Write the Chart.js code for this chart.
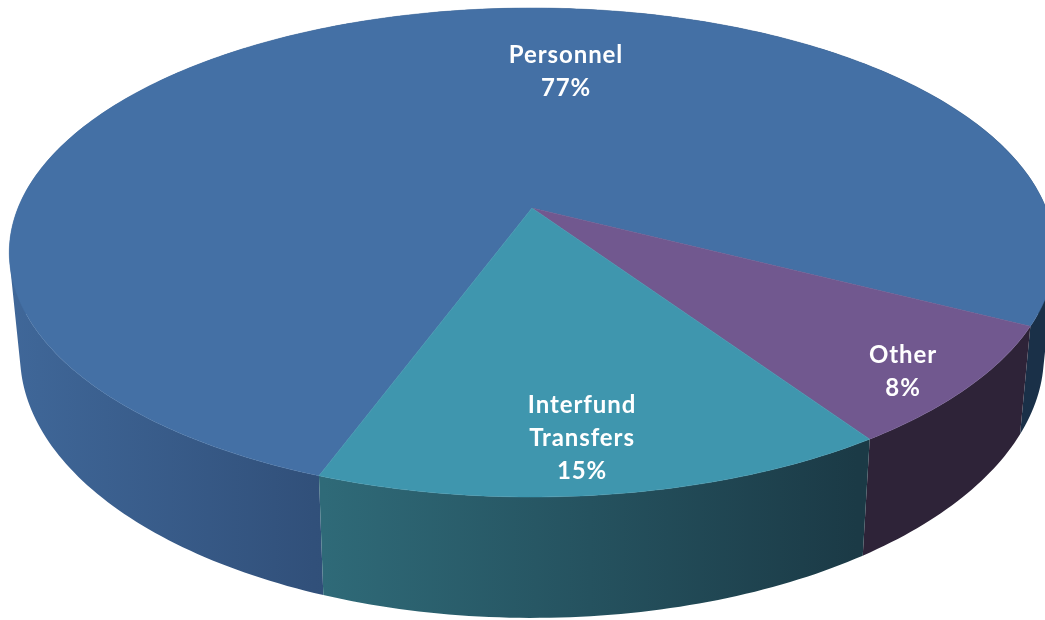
<!DOCTYPE html>
<html>
<head>
<meta charset="utf-8">
<title>Expenditures</title>
<script src="https://cdn.jsdelivr.net/npm/chart.js@4"></script>
<style>
    html, body { margin: 0; padding: 0; background: #fff; overflow: hidden; }
    #wrap { width: 1045px; height: 620px; }
    #chart { display: block; filter: blur(0.5px); }
</style>
</head>
<body>
<div id="wrap"><canvas id="chart" width="1045" height="620"></canvas></div>
<script>
const categories = ["Personnel", "Other", ["Interfund", "Transfers"]];
const shares = [77, 8, 15];

const faceColors = ["#4470a5", "#71588f", "#3f96ae"];
const wallStops = [
    [[0, "#40689a"], [0.3, "#31507a"], [0.97, "#1a3048"]],
    [[0, "#2e2338"], [1, "#2e2338"]],
    [[0.31, "#2f6a78"], [0.82, "#1b3a46"]]
];

// where each label block sits, centre x and first baseline
const labelSpots = [[566, 63], [903, 363], [582, 413]];
const lineHeight = 33;

// the pie top and its rim below it are the same tilted circle seen in perspective
const tilt = 0.182;
const topRim = { x: 532, y: 208, a: 514, b: 236.4 };
const lowRim = { x: 532, y: 307, a: 503.4, b: 254.3 };

function project(rim, angle) {
    const u = Math.cos(angle);
    const v = -Math.sin(angle);
    const w = 1 + tilt * v;
    return [rim.x + rim.a * u / w, rim.y - rim.b * v / w];
}

function arcPoints(rim, start, end) {
    const steps = Math.max(8, Math.ceil((end - start) * 60));
    const points = [];
    for (let i = 0; i <= steps; i++) {
        points.push(project(rim, start + (end - start) * i / steps));
    }
    return points;
}

function addPolygon(ctx, points) {
    points.forEach((p, i) => i ? ctx.lineTo(p[0], p[1]) : ctx.moveTo(p[0], p[1]));
    ctx.closePath();
}

function signedArea(points) {
    let area = 0;
    points.forEach((p, i) => {
        const q = points[(i + 1) % points.length];
        area += p[0] * q[1] - q[0] * p[1];
    });
    return area;
}

const pie3d = {
    id: "pie3d",
    // the library's arcs give the angles, they get drawn here through the projection
    beforeDatasetDraw(chart) {
        const ctx = chart.ctx;
        const arcs = chart.getDatasetMeta(0).data;

        ctx.save();
        arcs.forEach((arc, i) => {
            const { startAngle, endAngle } = arc.getProps(["startAngle", "endAngle"], true);
            const top = arcPoints(topRim, startAngle, endAngle);
            const low = arcPoints(lowRim, startAngle, endAngle);
            const gradient = ctx.createLinearGradient(0, 0, chart.width, 0);
            wallStops[i].forEach(s => gradient.addColorStop(s[0], s[1]));

            // all strips in one path with the same winding, so no seams show between them
            ctx.beginPath();
            for (let n = 0; n < top.length - 1; n++) {
                const quad = [top[n], top[n + 1], low[n + 1], low[n]];
                addPolygon(ctx, signedArea(quad) < 0 ? quad.reverse() : quad);
            }
            ctx.fillStyle = gradient;
            ctx.fill();
        });
        arcs.forEach((arc, i) => {
            const { startAngle, endAngle } = arc.getProps(["startAngle", "endAngle"], true);
            ctx.beginPath();
            addPolygon(ctx, [[topRim.x, topRim.y]].concat(arcPoints(topRim, startAngle, endAngle)));
            ctx.fillStyle = faceColors[i];
            ctx.fill();
            ctx.strokeStyle = faceColors[i];
            ctx.lineWidth = 0.5;
            ctx.stroke();
        });
        ctx.restore();
        return false;
    },
    afterDraw(chart) {
        const ctx = chart.ctx;
        ctx.save();
        ctx.fillStyle = "#fff";
        ctx.font = "bold 24px Lato";
        ctx.textAlign = "center";
        ctx.textBaseline = "alphabetic";
        if ("letterSpacing" in ctx) ctx.letterSpacing = "0.9px";
        chart.data.labels.forEach((label, i) => {
            const lines = [].concat(label, shares[i] + "%");
            lines.forEach((line, n) => {
                ctx.fillText(line, labelSpots[i][0], labelSpots[i][1] + n * lineHeight);
            });
        });
        ctx.restore();
    }
};

new Chart(document.getElementById("chart"), {
    type: "pie",
    data: {
        labels: categories,
        datasets: [{
            data: shares,
            backgroundColor: faceColors,
            borderWidth: 0
        }]
    },
    options: {
        responsive: false,
        animation: false,
        rotation: 200.1,
        plugins: {
            legend: { display: false },
            tooltip: { enabled: false }
        }
    },
    plugins: [pie3d]
});
</script>
</body>
</html>
